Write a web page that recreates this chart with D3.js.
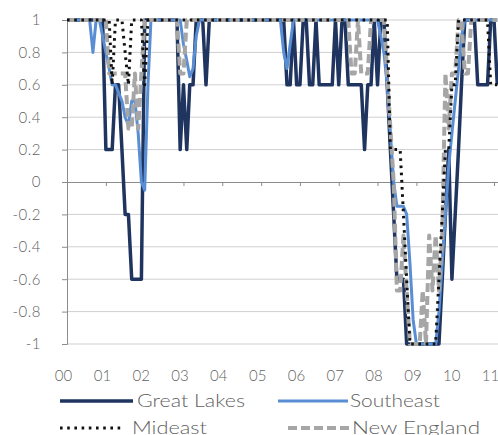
<!DOCTYPE html>
<html>
<head>
<meta charset="utf-8">
<script src="https://cdn.jsdelivr.net/npm/d3@7"></script>
<style>
  body { margin: 0; background: #fff; }
  svg { display: block; }
  text { font-family: Lato, "Open Sans", sans-serif; font-weight: 300; fill: #5f5f5f; }
</style>
</head>
<body>
<svg id="chart" width="498" height="435"></svg>
<script>
// Regional diffusion indexes, monthly from Jan 2000
const firstMonth = new Date(2000, 0, 1);
const yearLabels = ["00", "01", "02", "03", "04", "05", "06", "07", "08", "09", "10", "11"];
const yTicks = [1, 0.8, 0.6, 0.4, 0.2, 0, -0.2, -0.4, -0.6, -0.8, -1];
const yTickLabels = ["1", "0.8", "0.6", "0.4", "0.2", "0", "-0.2", "-0.4", "-0.6", "-0.8", "-1"];
const seriesNames = ["Great Lakes", "Southeast", "Mideast", "New England"];

const greatLakes = [
  1, 1, 1, 1, 1, 1, 1, 1, 1, 1, 1, 1,
  0.2, 0.2, 0.2, 0.6, 0.6, 0.2, -0.2, -0.2, -0.6, -0.6, -0.6, -0.6,
  1, 1, 1, 1, 1, 1, 1, 1, 1, 1, 1,
  0.2, 0.6, 0.2, 0.6, 0.6, 1, 1, 1, 0.6,
  1, 1, 1, 1, 1, 1, 1, 1, 1, 1, 1, 1, 1, 1, 1, 1, 1, 1, 1, 1, 1, 1, 1, 1,
  0.6, 0.6, 1, 0.6, 0.6, 1, 1, 0.6, 0.6, 1,
  0.6, 0.6, 0.6, 0.6, 0.6, 1, 0.6, 1, 1,
  0.6, 0.6, 0.6, 0.6, 0.6, 0.2, 0.6, 0.6, 1, 0.6, 1, 1,
  0.6, 0.2, -0.2, -0.6, -0.6, -0.6,
  -1, -1, -1, -1, -1, -1, -1, -1, -1, -1, -1,
  -0.6, -0.2, 0.2, -0.6, -0.2, 0.2, 0.6,
  1, 1, 1, 1, 0.6, 0.6, 0.6, 0.6, 1, 1, 0.6
];

const southeast = [
  1, 1, 1, 1, 1, 1, 1, 1, 0.8, 1,
  1, 0.9, 0.8, 0.7, 0.6, 0.6, 0.55, 0.5, 0.4, 0.35, 0.5, 0.5, 0.3, 0, -0.05, 0.6, 1,
  1, 1, 1, 1, 1, 1, 1, 1, 1,
  0.85, 0.75, 0.65, 0.7, 0.9,
  1, 1, 1, 1, 1, 1, 1, 1, 1, 1, 1, 1, 1, 1, 1, 1, 1, 1, 1, 1, 1, 1, 1, 1, 1, 1,
  0.8, 0.7, 0.85,
  1, 1, 1, 1, 1, 1, 1, 1, 1, 1, 1, 1, 1, 1, 1, 1, 1, 1, 1, 1, 1, 1, 1, 1, 1, 1, 1,
  0.9, 0.8, 0.6, 0.3, 0, -0.15, -0.15, -0.15, -0.2, -0.5, -0.85,
  -1, -1, -1, -1, -1, -1, -1,
  -0.8, -0.5, -0.2, 0.1, 0.3, 0.5, 0.7, 0.9,
  1, 1, 1, 1, 1, 1, 1, 1, 1, 1, 1
];

const mideast = [
  1, 1, 1, 1, 1, 1, 1, 1, 1, 1, 1, 1, 1, 1,
  0.6, 1, 1, 1, 0.8, 0.6, 1, 1, 1, 1, 0.6,
  1, 1, 1, 1, 1, 1, 1, 1, 1, 1, 1, 1, 1, 1, 1, 1, 1, 1, 1, 1, 1, 1, 1, 1, 1,
  1, 1, 1, 1, 1, 1, 1, 1, 1, 1, 1, 1, 1, 1, 1, 1, 1, 1, 1, 1, 1, 1, 1, 1, 1,
  1, 1, 1, 1, 1, 1, 1, 1, 1, 1, 1, 1, 1, 1, 1, 1, 1, 1, 1, 1, 1, 1, 1, 1, 1,
  0.2, 0.2, 0.2, 0.2, -0.2, -0.6,
  -1, -1, -1, -1, -1, -1, -1, -1, -1,
  -0.6, -0.2, 0.2, 0.2, 0.6, 0.6,
  1, 1, 1, 1, 1, 1, 1, 1, 1, 1,
  0.6, 0.6, 0.6
];

const newEngland = [
  1, 1, 1, 1, 1, 1, 1, 1, 1, 1, 1, 1,
  1, 0.67, 0.67, 0.67, 0.67, 0.67, 0.67, 0.33, 0.33, 0.67, 0.33, 0.67, 1,
  1, 1, 1, 1, 1, 1, 1, 1, 1, 1,
  0.67, 0.67,
  1, 1, 1, 1, 1, 1, 1, 1, 1, 1, 1, 1, 1, 1, 1, 1, 1, 1, 1, 1, 1, 1, 1, 1, 1, 1,
  1, 1, 1, 1, 1, 1, 1, 1, 1, 1, 1, 1, 1, 1, 1, 1, 1, 1, 1, 1, 1, 1, 1, 1, 1,
  0.67, 0.67, 1, 0.67, 0.67, 0.67,
  1, 1, 1, 1,
  1, 0.67, 0.33, 0, -0.67, -0.67, -0.33, -0.67, -1,
  -1, -1, -1,
  -0.67, -1, -0.33, -0.67, -0.33, -0.67, -0.33, 0.67, 0.33, 0.67, 0.67, 1, 1, 0.67, 0.67,
  1, 1, 1, 1, 1, 1, 1, 1, 1
];

const seriesValues = [greatLakes, southeast, mideast, newEngland];
const seriesColors = ["#1f3560", "#5a8ed4", "#111111", "#a6a6a6"];
const seriesWidths = [3.5, 3, 3, 4];
const seriesDash = [null, null, "2.6,4.6", "9,4"];

const svg = d3.select("#chart");
const plotLeft = 67, plotRight = 494, plotTop = 20, plotBottom = 344;

const x = d3.scaleTime()
  .domain([firstMonth, new Date(2011, 0, 1)])
  .range([plotLeft, plotRight]);
const y = d3.scaleLinear().domain([-1, 1]).range([plotBottom, plotTop]);
const monthDate = i => new Date(firstMonth.getFullYear(), firstMonth.getMonth() + i, 1);

// horizontal gridlines
svg.append("g").selectAll("line")
  .data(yTicks.filter(d => d !== 0))
  .join("line")
  .attr("x1", plotLeft).attr("x2", 498)
  .attr("y1", d => y(d)).attr("y2", d => y(d))
  .attr("stroke", "#cfcfcf").attr("stroke-width", 1);

// y axis
const yAxis = svg.append("g")
  .attr("transform", `translate(${plotLeft},0)`)
  .call(d3.axisLeft(y).tickValues(yTicks).tickSize(5).tickPadding(21)
    .tickFormat((d, i) => yTickLabels[i]));
yAxis.select(".domain").attr("stroke", "#8c8c8c");
yAxis.selectAll(".tick line").attr("stroke", "#8c8c8c");
yAxis.selectAll(".tick text").style("font-size", "15px").attr("letter-spacing", "0.5px");

// zero line with year ticks
const years = d3.range(0, 12).map(k => new Date(2000 + k, 0, 1));
const zAxis = svg.append("g")
  .attr("transform", `translate(0,${y(0)})`)
  .call(d3.axisBottom(x).tickValues(years).tickSize(4).tickFormat(""));
zAxis.select(".domain").attr("stroke", "#8c8c8c").attr("d", `M${plotLeft},0.5H498`);
zAxis.selectAll(".tick line").attr("stroke", "#8c8c8c");

// year labels under the plot
const labAxis = svg.append("g")
  .attr("transform", `translate(-4,370)`)
  .call(d3.axisBottom(x).tickValues(years).tickSize(0).tickPadding(0)
    .tickFormat((d, i) => yearLabels[i]));
labAxis.select(".domain").remove();
labAxis.selectAll(".tick text").style("font-size", "15px");

// series lines
const line = d3.line()
  .x((d, i) => x(monthDate(i)))
  .y(d => y(d));

const drawOrder = [0, 1, 3, 2];
svg.append("g").selectAll("path")
  .data(drawOrder)
  .join("path")
  .attr("d", k => line(seriesValues[k]))
  .attr("fill", "none")
  .attr("stroke", k => seriesColors[k])
  .attr("stroke-width", k => seriesWidths[k])
  .attr("stroke-dasharray", k => seriesDash[k])
  .attr("stroke-linejoin", "round");

// legend
const legendItems = [
  { k: 0, x: 60, y: 401, len: 73, tx: 77, tw: 108 },
  { k: 1, x: 278, y: 401, len: 70, tx: 72, tw: 90 },
  { k: 2, x: 60, y: 428, len: 63, tx: 72, tw: 75 },
  { k: 3, x: 288, y: 428, len: 62, tx: 64, tw: 128 }
];
const lg = svg.append("g").selectAll("g")
  .data(legendItems)
  .join("g")
  .attr("transform", d => `translate(${d.x},${d.y})`);
lg.append("line")
  .attr("x1", 0).attr("x2", d => d.len)
  .attr("y1", 0).attr("y2", 0)
  .attr("stroke", d => seriesColors[d.k])
  .attr("stroke-width", d => seriesWidths[d.k])
  .attr("stroke-dasharray", d => seriesDash[d.k]);
lg.append("text")
  .attr("x", d => d.tx)
  .attr("y", 6)
  .style("font-size", "18px")
  .attr("textLength", d => d.tw)
  .attr("lengthAdjust", "spacingAndGlyphs")
  .text(d => seriesNames[d.k]);
</script>
</body>
</html>
